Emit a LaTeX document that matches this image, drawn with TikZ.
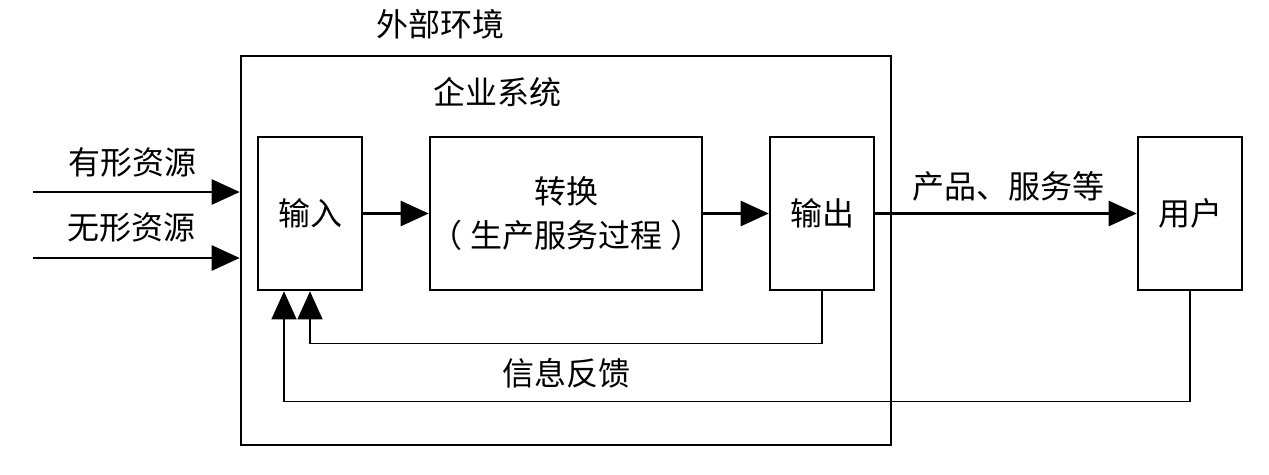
\documentclass[tikz,border=0pt]{standalone}
\usepackage{fontspec}
\newfontfamily\cjk{Noto Sans CJK SC}
\usetikzlibrary{arrows.meta}
\begin{document}
\begin{tikzpicture}[x=1pt,y=-1pt,
  txt/.style={font=\cjk\fontsize{32}{38}\selectfont, inner sep=0pt},
  box/.style={draw, line width=2.6pt, inner sep=0pt, align=center, font=\cjk\fontsize{32}{44}\selectfont},
  arr/.style={line width=2.6pt, -{Triangle[length=28pt,width=25pt]}},
  fb/.style={line width=1.2pt, -{Triangle[length=28pt,width=25pt]}}
]
\useasboundingbox (0,0) rectangle (1269,474);
\node[draw, line width=2.6pt, minimum width=650pt, minimum height=389pt, inner sep=0pt] (outer) at (566,250.5) {};
\node[txt] (env) at (440,24) {外部环境};
\node[txt] (sys) at (497,92) {企业系统};
\node[box, minimum width=104pt, minimum height=153pt] (input) at (310,213.5) {输入};
\node[box, minimum width=272pt, minimum height=153pt] (trans) at (566,213.5) {转换\\（\hspace{8pt}生产服务过程\hspace{8pt}）};
\node[box, minimum width=104pt, minimum height=153pt] (output) at (822,213.5) {输出};
\node[box, minimum width=104pt, minimum height=153pt] (user) at (1190,213.5) {用户};
\coordinate (s1) at (33,192);
\coordinate (s2) at (33,258);
\draw[arr] (s1) -- (outer.west |- s1);
\draw[arr] (s2) -- (outer.west |- s2);
\node[txt] (l1) at (132,162) {有形资源};
\node[txt] (l2) at (131,227) {无形资源};
\draw[arr] (input) -- (trans);
\draw[arr] (trans) -- (output);
\draw[arr] (output) -- (user);
\node[txt] (prod) at (1008,186) {产品、服务等};
\draw[fb] (output.south) -- ++(0,52) -| (input.south);
\draw[fb] (user.south) -- ++(0,110) -| ([xshift=-26pt]input.south);
\node[txt] (fbl) at (566,373) {信息反馈};
\end{tikzpicture}
\end{document}
